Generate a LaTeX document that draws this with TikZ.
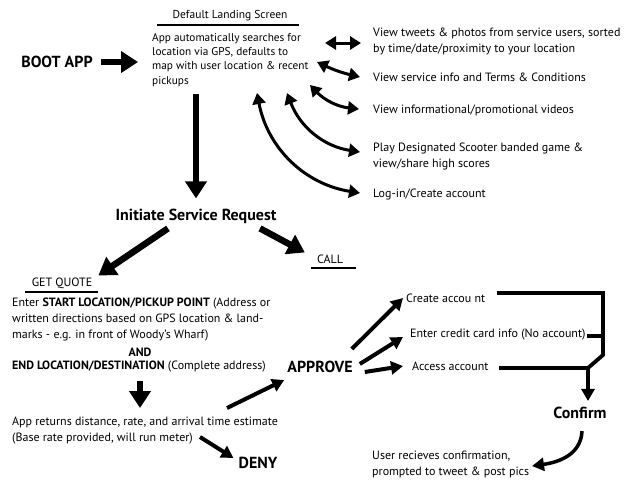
\documentclass[tikz,border=0pt]{standalone}
\usepackage{fontspec}
\setmainfont{PT Sans}
\usetikzlibrary{arrows.meta}
\begin{document}
\begin{tikzpicture}[x=1pt,y=1pt,
  body/.style={font=\fontsize{12}{16}\selectfont, inner sep=0, align=left},
  bigb/.style={font=\fontsize{16}{18}\bfseries\selectfont, inner sep=0},
  small/.style={font=\fontsize{11.5}{13}\selectfont, inner sep=0},
  fat/.style={line width=6.5pt, -{Triangle[length=17pt,width=21pt]}},
  mid/.style={line width=4pt, -{Triangle[length=12pt,width=13pt]}},
  dbl/.style={line width=3pt, {Triangle[length=11pt,width=13pt]}-{Triangle[length=11pt,width=13pt]}},
  rulel/.style={line width=2pt},
  bracket/.style={line width=3.8pt}]
\useasboundingbox (0,0) rectangle (640,-491);
\fill[white] (0,0) rectangle (640,-491);

% top area
\node[bigb] (boot) at (57,-62) {BOOT APP};
\node[small] (lhead) at (230,-16) {Default Landing Screen};
\draw[rulel] (157,-25) -- (299,-25);
\node[body, anchor=north west, font=\fontsize{11.3}{14.3}\selectfont] (land) at (152,-33)
  {App automatically searches for\\location via GPS, defaults to\\map with user location \& recent\\pickups};
\draw[fat] ([xshift=8pt]boot.east) -- ([xshift=-14pt]boot.east -| land.west);

% right list
\node[body, anchor=west] (t1) at (373,-41)
  {View tweets \& photos from service users, sorted\\by time/date/proximity to your location};
\node[body, anchor=west] (t2) at (373,-77) {View service info and Terms \& Conditions};
\node[body, anchor=west] (t3) at (373,-110) {View informational/promotional videos};
\node[body, anchor=west] (t4) at (373,-156)
  {Play Designated Scooter banded game \&\\view/share high scores};
\node[body, anchor=west] (t5) at (373,-194) {Log-in/Create account};

\draw[dbl] ([xshift=-48pt,yshift=-2pt]t1.west) -- ([xshift=-12pt,yshift=-2pt]t1.west);
\draw[dbl] ([xshift=-56pt,yshift=15pt]t2.west) to[bend right=6] ([xshift=-13pt]t2.west);
\draw[dbl] ([xshift=-63pt,yshift=25pt]t3.west) to[bend right=20] ([xshift=-14pt,yshift=1pt]t3.west);
\draw[dbl] ([xshift=-86pt,yshift=63pt]t4.west) to[bend right=30] ([xshift=-13pt,yshift=4pt]t4.west);
\draw[dbl] ([xshift=-116pt,yshift=101pt]t5.west) to[bend right=35] ([xshift=-13pt,yshift=1pt]t5.west);

% initiate
\node[bigb, anchor=base] (isr) at (196,-220) {Initiate Service Request};
\draw[fat] ([yshift=-7pt]isr.north |- land.south) -- ([yshift=10pt]isr.north);

\node[small, font=\fontsize{12}{14}\selectfont] (gq) at (62,-283) {GET QUOTE};
\draw[rulel] (25,-292) -- (98,-292);
\node[small, font=\fontsize{12}{14}\selectfont] (call) at (330,-259) {CALL};
\draw[rulel] (311,-268) -- (356,-268);

\draw[fat] ([xshift=-28pt,yshift=-5pt]isr.south) -- ([xshift=6pt,yshift=2pt]gq.north east);
\draw[fat] ([xshift=64pt,yshift=-5pt]isr.south) -- ([xshift=-12pt,yshift=2pt]call.north west);

% get quote body
\node[body, anchor=north west] (gqt) at (12,-298)
  {Enter \textbf{START LOCATION/PICKUP POINT} (Address or\\written directions based on GPS location \& land-\\marks - e.g. in front of Woody’s Wharf)};
\node[body, font=\fontsize{12}{14}\bfseries\selectfont] (and) at (140,-352) {AND};
\node[body, anchor=west] (gqe) at (12,-367) {\textbf{END LOCATION/DESTINATION} (Complete address)};
\node[body, anchor=north west] (ret) at (12,-417)
  {App returns distance, rate, and arrival time estimate\\(Base rate provided, will run meter)};
\draw[fat] ([yshift=-8pt]gqe.south -| and.south) -- ([yshift=9pt]ret.north -| and.south);

\node[bigb] (deny) at (258,-463) {DENY};
\node[bigb] (appr) at (320,-367) {APPROVE};
\draw[mid] ([xshift=188pt,yshift=-20pt]ret.north west) -- ([xshift=-5pt,yshift=5pt]deny.west);
\draw[mid] ([xshift=215pt,yshift=9pt]ret.north west) -- ([xshift=-3pt,yshift=-13pt]appr.west);

% approve options
\node[body, anchor=west] (ca) at (406,-298) {Create accou nt};
\node[body, anchor=west] (cc) at (410,-335) {Enter credit card info (No account)};
\node[body, anchor=west] (aa) at (412,-366) {Access account};
\draw[mid] ([xshift=-1pt,yshift=12pt]appr.north east) -- ([xshift=-3pt]ca.west);
\draw[mid] ([xshift=7pt,yshift=-3pt]appr.north east) -- ([xshift=-7pt,yshift=-2pt]cc.west);
\draw[mid] ([xshift=12pt,yshift=-5pt]appr.east) -- ([xshift=-9pt]aa.west);

\coordinate (bj) at (588,-368);
\draw[bracket] (497,-293) -- (603,-293) -- (603,-355) -- (bj) -- (499,-368);
\draw[bracket] (587,-336) -- (603,-336);

\node[bigb] (conf) at (580,-413) {Confirm};
\draw[mid] (bj) -- ([xshift=8pt,yshift=6pt]conf.north);

\node[body, anchor=north west] (usr) at (372,-451)
  {User recieves confirmation,\\prompted to tweet \& post pics};
\draw[line width=3.5pt, -{Triangle[length=12pt,width=13pt]}] ([xshift=2pt,yshift=-12pt]conf.south)
  .. controls ([xshift=1pt,yshift=-35pt]conf.south) and ([xshift=-20pt,yshift=-43pt]conf.south) .. ([xshift=-48pt,yshift=-47pt]conf.south);
\end{tikzpicture}
\end{document}
